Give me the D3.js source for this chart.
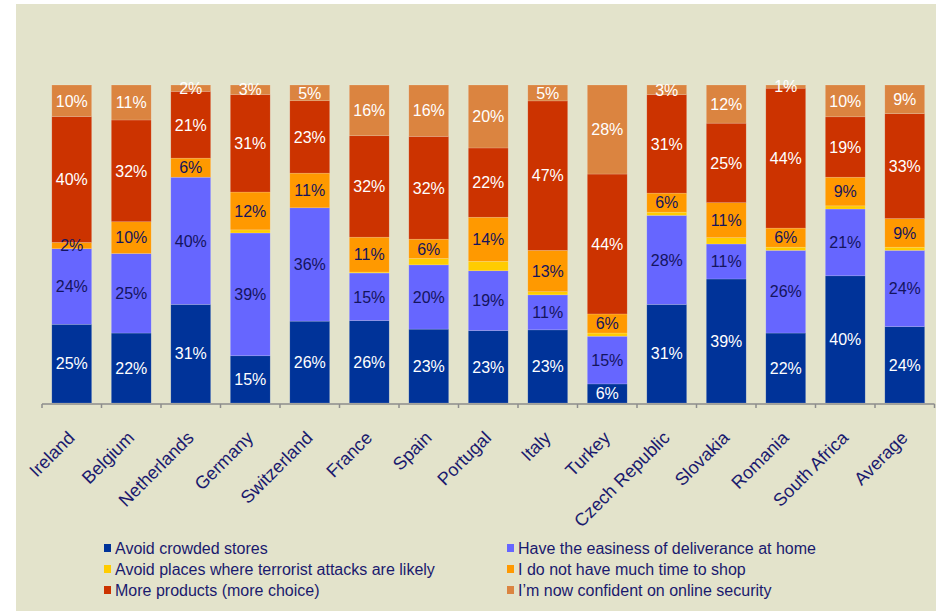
<!DOCTYPE html>
<html>
<head>
<meta charset="utf-8">
<script src="https://cdn.jsdelivr.net/npm/d3@7"></script>
<style>
  body { margin: 0; background: #fff; }
  text { font-family: Arial, "Liberation Sans", sans-serif; }
</style>
</head>
<body>
<script>
// data (percent of respondents)
var categories = ["Ireland", "Belgium", "Netherlands", "Germany", "Switzerland", "France", "Spain",
  "Portugal", "Italy", "Turkey", "Czech Republic", "Slovakia", "Romania", "South Africa", "Average"];

var crowded      = [25, 22, 31, 15, 26, 26, 23, 23, 23,  6, 31, 39, 22, 40, 24];
var easiness     = [24, 25, 40, 39, 36, 15, 20, 19, 11, 15, 28, 11, 26, 21, 24];
var terrorist    = [ 0,  0,  0,  1,  0, 0.3, 2,  3,  1,  1,  1,  2,  1,  1,  1];
var noTime       = [ 2, 10,  6, 12, 11, 11,  6, 14, 13,  6,  6, 11,  6,  9,  9];
var moreProducts = [40, 32, 21, 31, 23, 32, 32, 22, 47, 44, 31, 25, 44, 19, 33];
var confident    = [10, 11,  2,  3,  5, 16, 16, 20,  5, 28,  3, 12,  1, 10,  9];

var seriesNames = ["Avoid crowded stores", "Have the easiness of deliverance at home",
  "Avoid places where terrorist attacks are likely", "I do not have much time to shop",
  "More products (more choice)", "I\u2019m now confident on online security"];

// series in stacking order, bottom to top
var series = [
  {key: "crowded", name: seriesNames[0], values: crowded, color: "#003399", text: "#fff", label: true},
  {key: "easiness", name: seriesNames[1], values: easiness, color: "#6666FF", text: "#14145e", label: true},
  {key: "terrorist", name: seriesNames[2], values: terrorist, color: "#FFCC00", text: "#14145e", label: false},
  {key: "noTime", name: seriesNames[3], values: noTime, color: "#FF9900", text: "#14145e", label: true},
  {key: "moreProducts", name: seriesNames[4], values: moreProducts, color: "#CC3300", text: "#fff", label: true},
  {key: "confident", name: seriesNames[5], values: confident, color: "#DB8440", text: "#fff", label: true}
];

var width = 936, height = 611;
var navy = "#1a1a6e";

var svg = d3.select("body").append("svg")
  .attr("width", width)
  .attr("height", height);

// beige panel
svg.append("rect")
  .attr("x", 16).attr("y", 4)
  .attr("width", width - 16).attr("height", height - 4)
  .attr("fill", "#E3E3CB");

// table for d3.stack
var rows = categories.map(function(c, i) {
  var r = {category: c};
  series.forEach(function(s) { r[s.key] = s.values[i]; });
  return r;
});

var stack = d3.stack()
  .keys(series.map(function(s) { return s.key; }))
  .offset(d3.stackOffsetExpand);
var layers = stack(rows);

var x = d3.scaleBand()
  .domain(categories)
  .range([42, 934.5])
  .paddingInner(0.33)
  .paddingOuter(0.165);

var y = d3.scaleLinear()
  .domain([0, 1])
  .range([403, 85]);

var layer = svg.selectAll(".layer")
  .data(layers)
  .enter().append("g")
  .attr("class", "layer")
  .attr("fill", function(d, i) { return series[i].color; });

layer.selectAll("rect")
  .data(function(d) { return d; })
  .enter().append("rect")
  .attr("x", function(d) { return x(d.data.category); })
  .attr("y", function(d) { return y(d[1]); })
  .attr("width", x.bandwidth())
  .attr("height", function(d) { return y(d[0]) - y(d[1]); })
  .attr("stroke", "rgba(255,255,255,0.25)")
  .attr("stroke-width", 0.6);

// value labels
layers.forEach(function(l, i) {
  var s = series[i];
  if (!s.label) return;
  svg.append("g").selectAll("text")
    .data(l)
    .enter().append("text")
    .attr("x", function(d) { return x(d.data.category) + x.bandwidth() / 2; })
    .attr("y", function(d) { return (y(d[0]) + y(d[1])) / 2; })
    .attr("dy", "0.36em")
    .attr("text-anchor", "middle")
    .attr("font-size", 16)
    .attr("fill", s.text)
    .text(function(d) { return d.data[s.key] + "%"; });
});

// x axis: line with ticks on the band edges
var axisY = 404;
var step = x.step();
var edges = d3.range(categories.length + 1).map(function(i) { return 42 + i * step; });

svg.append("line")
  .attr("x1", 42).attr("x2", edges[edges.length - 1])
  .attr("y1", axisY).attr("y2", axisY)
  .attr("stroke", "#8c8c8c")
  .attr("stroke-width", 1.5);

svg.selectAll(".tick")
  .data(edges)
  .enter().append("line")
  .attr("class", "tick")
  .attr("x1", function(d) { return d; })
  .attr("x2", function(d) { return d; })
  .attr("y1", axisY).attr("y2", axisY + 4)
  .attr("stroke", "#8c8c8c")
  .attr("stroke-width", 1.5);

svg.selectAll(".cat")
  .data(categories)
  .enter().append("text")
  .attr("class", "cat")
  .attr("transform", function(d) {
    return "translate(" + (x(d) + x.bandwidth() / 2 + 4) + "," + 439 + ") rotate(-45)";
  })
  .attr("text-anchor", "end")
  .attr("font-size", 18)
  .attr("fill", navy)
  .text(function(d) { return d; });

// legend, two columns
var legend = svg.selectAll(".legend")
  .data(series)
  .enter().append("g")
  .attr("class", "legend")
  .attr("transform", function(d, i) {
    var col = i % 2, row = Math.floor(i / 2);
    return "translate(" + (col ? 507 : 104) + "," + (548 + row * 21) + ")";
  });

legend.append("rect")
  .attr("x", 0).attr("y", -4)
  .attr("width", 7).attr("height", 8)
  .attr("fill", function(d) { return d.color; });

legend.append("text")
  .attr("x", 11)
  .attr("dy", "0.36em")
  .attr("font-size", 16)
  .attr("fill", navy)
  .text(function(d) { return d.name; });
</script>
</body>
</html>
